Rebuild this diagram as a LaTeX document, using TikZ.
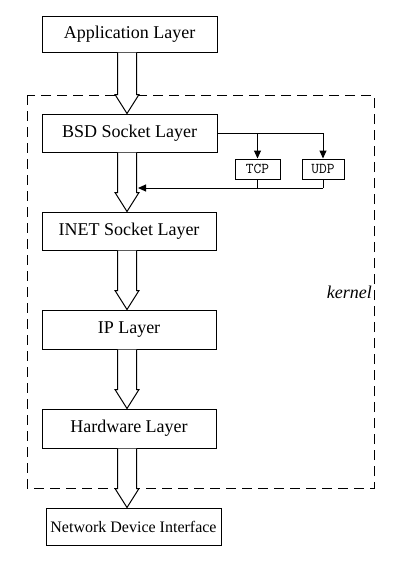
\documentclass[tikz,border=0pt]{standalone}
\usepackage{fontspec}
\setmainfont{Liberation Serif}
\usetikzlibrary{calc,arrows.meta}
\tikzset{
  layerbox/.style={draw, line width=1pt, fill=white, minimum width=175pt, minimum height=38pt, inner sep=0pt, font=\fontsize{18}{20}\selectfont},
  protobox/.style={draw, line width=1pt, fill=white, minimum height=20pt, inner sep=0pt, font=\ttfamily\fontsize{15}{17}\selectfont},
  harrow/.style={draw, line width=1pt, fill=white, line join=miter},
  thin/.style={draw, line width=1pt},
  kernelbox/.style={draw, line width=1pt, dash pattern=on 10pt off 6pt},
  tip/.style={-{Triangle[length=8pt,width=7pt]}}
}
\newcommand\hollowarr[2]{%
  \path[harrow]
    ($(#1.south -| col)+(-9.5,0)$) -- ($(#2.north -| col)+(-9.5,-19)$) --
    ($(#2.north -| col)+(-12,-19)$) -- (#2.north -| col) --
    ($(#2.north -| col)+(12,-19)$) -- ($(#2.north -| col)+(9.5,-19)$) --
    ($(#1.south -| col)+(9.5,0)$);}
\begin{document}
\begin{tikzpicture}[x=1pt,y=-1pt]
\useasboundingbox (0,0) rectangle (402,563);
\fill[white] (0,0) rectangle (402,563);
\coordinate (col) at (127,0);
\draw[kernelbox] (27,95) rectangle (374,488);
\node[anchor=east, font=\itshape\fontsize{18}{20}\selectfont, inner sep=0pt] (kern) at (372,292) {kernel};

\node[layerbox, minimum height=36pt] (app) at (129.5,34) {Application Layer};
\node[layerbox] (bsd) at (129.5,133) {BSD Socket Layer};
\node[layerbox, minimum width=174pt] (inet) at (129,231) {INET Socket Layer};
\node[layerbox, minimum width=174pt, minimum height=39pt] (ip) at (129,329.5) {IP Layer};
\node[layerbox, minimum width=174pt, minimum height=39pt] (hw) at (129,428.5) {Hardware Layer};
\node[layerbox, minimum height=37pt, font=\fontsize{16}{18}\selectfont] (ndi) at (133.5,526.5) {Network Device Interface};

\node[protobox, minimum width=45pt] (tcp) at (257.5,169) {TCP};
\node[protobox, minimum width=42pt] (udp) at (323,169) {UDP};

\hollowarr{app}{bsd}
\hollowarr{bsd}{inet}
\hollowarr{inet}{ip}
\hollowarr{ip}{hw}
\hollowarr{hw}{ndi}

\coordinate (join) at (323,188);
\coordinate (into) at (138,188);
\draw[thin] (bsd.east) -- (udp.north |- bsd.east);
\draw[thin,tip] (udp.north |- bsd.east) -- (udp.north);
\draw[thin,tip] (tcp.north |- bsd.east) -- (tcp.north);
\draw[thin] (udp.south) -- (join);
\draw[thin] (tcp.south) -- (tcp.south |- join);
\draw[thin,tip] (join) -- (into);
\end{tikzpicture}
\end{document}
